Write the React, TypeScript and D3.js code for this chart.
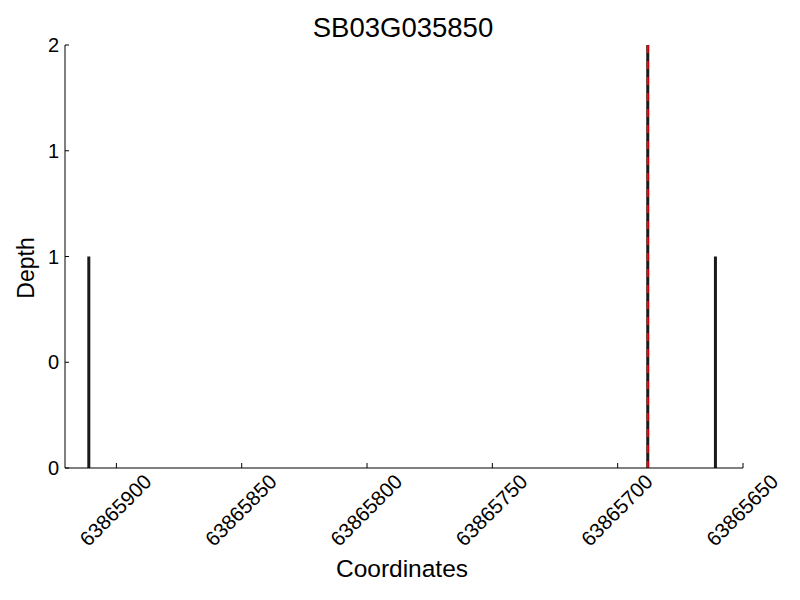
import React from "react";
import * as d3 from "d3";

const title = "SB03G035850";
const positions = [63865911, 63865688, 63865661];
const depths = [1, 2, 1];
const markerPositions = [63865688];
const xTicks = [63865900, 63865850, 63865800, 63865750, 63865700, 63865650];
const yTicks = [0, 0.5, 1, 1.5, 2];
const yTickLabels = ["0", "0", "1", "1", "2"];
const xDomain = [63865920.5, 63865650];
const yDomain = [0, 2];

export default function App() {
  const W = 800, H = 600;
  const left = 65, right = 743, top = 45, bottom = 468;
  const x = d3.scaleLinear().domain(xDomain).range([left, right]);
  const y = d3.scaleLinear().domain(yDomain).range([bottom, top]);
  const font = "'Liberation Sans', Arial, sans-serif";
  return (
    <svg width={W} height={H} style={{ position: "absolute", left: 0, top: 0, background: "#fff" }} fontFamily={font}>
      <rect x={0} y={0} width={W} height={H} fill="#fff" />
      {positions.map((p, i) => (
        <rect key={i} x={x(p) - 1.5} y={y(depths[i])} width={3} height={bottom - y(depths[i])} fill="#1a1a1a" />
      ))}
      {markerPositions.map((p, i) => (
        <line key={i} x1={x(p)} x2={x(p)} y1={top} y2={bottom} stroke="#ff0000" strokeWidth={2} strokeDasharray="8,8" />
      ))}
      <line x1={left} x2={left} y1={top} y2={bottom} stroke="#000" strokeWidth={1} />
      <line x1={left} x2={right} y1={bottom} y2={bottom} stroke="#000" strokeWidth={1.2} />
      {yTicks.map((t, i) => (
        <g key={i}>
          <line x1={left} x2={left + 4} y1={y(t)} y2={y(t)} stroke="#000" />
          <text x={left - 6} y={y(t)} dy="0.36em" textAnchor="end" fontSize={20}>{yTickLabels[i]}</text>
        </g>
      ))}
      {xTicks.map((t, i) => (
        <g key={i}>
          <line x1={x(t)} x2={x(t)} y1={bottom} y2={bottom - 5} stroke="#000" />
          <text transform={`translate(${x(t) - 1},510) rotate(-45)`} dy="0.36em" textAnchor="middle" fontSize={20.5}>{d3.format("d")(t)}</text>
        </g>
      ))}
      <text x={403} y={37} textAnchor="middle" fontSize={27.5}>{title}</text>
      <text x={402} y={577} textAnchor="middle" fontSize={24.5}>Coordinates</text>
      <text transform="translate(34,268) rotate(-90)" textAnchor="middle" fontSize={23}>Depth</text>
    </svg>
  );
}
